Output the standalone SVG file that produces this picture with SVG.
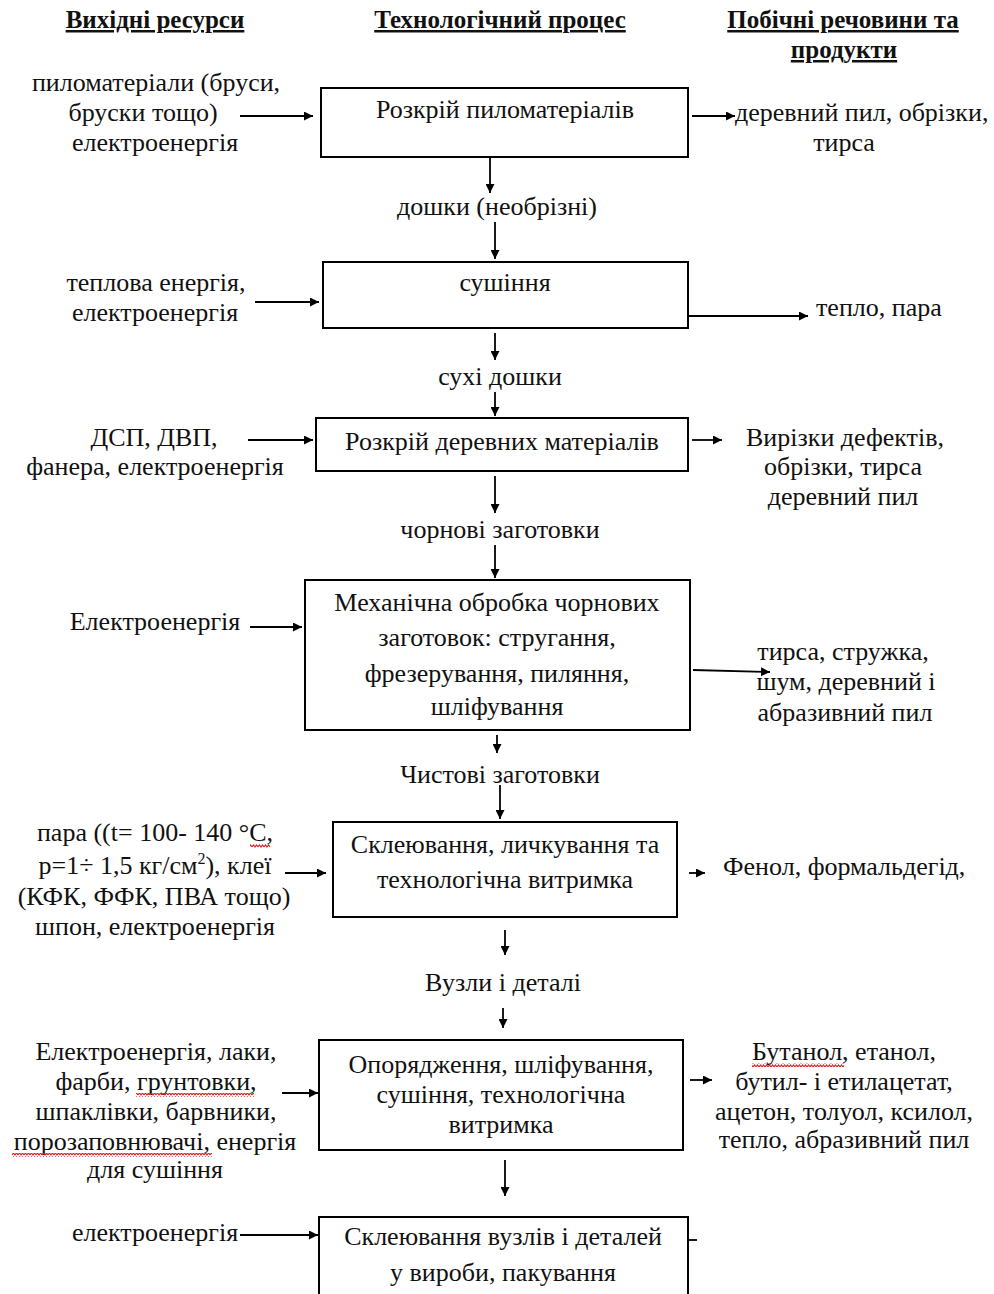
<svg xmlns="http://www.w3.org/2000/svg" width="994" height="1294" viewBox="0 0 994 1294">
<defs>
<marker id="ah" viewBox="0 0 10 10" refX="10" refY="5" markerWidth="9" markerHeight="9" markerUnits="userSpaceOnUse" orient="auto">
<path d="M0,0 L10,5 L0,10 z" fill="#000"/>
</marker>
<pattern id="wave" x="0" y="0" width="6" height="4" patternUnits="userSpaceOnUse"><path d="M0,3 L1.5,1 L3,3 L4.5,1 L6,3" fill="none" stroke="#e02020" stroke-width="1.2"/></pattern>
</defs>
<style>
text{font-family:"Liberation Serif","Times New Roman",serif;font-size:26px;fill:#111;}
.h{font-weight:bold;text-decoration:underline;font-size:25px;}
.c{text-anchor:middle;}
.box{fill:#fff;stroke:#000;stroke-width:2;}
.ln{stroke:#000;stroke-width:1.8;fill:none;}
.ar{marker-end:url(#ah);}
.sq{fill:url(#wave);}
</style>
<rect width="994" height="1294" fill="#fff"/>

<g id="headers">
<text class="h c" x="155" y="28">Вихідні ресурси</text>
<text class="h c" x="500" y="28">Технологічний процес</text>
<text class="h c" x="843" y="28">Побічні речовини та</text>
<text class="h c" x="844" y="58">продукти</text>
</g>

<g id="connectors">
<line class="ln ar" x1="240" y1="116" x2="313" y2="116"/>
<line class="ln ar" x1="692" y1="116" x2="735" y2="116"/>
<line class="ln ar" x1="490" y1="157" x2="490" y2="193"/>
<line class="ln ar" x1="495" y1="222" x2="495" y2="259"/>
<line class="ln ar" x1="255" y1="302" x2="319" y2="302"/>
<line class="ln ar" x1="685" y1="316" x2="808" y2="316"/>
<line class="ln ar" x1="495" y1="333" x2="495" y2="360"/>
<line class="ln ar" x1="495" y1="392" x2="495" y2="416"/>
<line class="ln ar" x1="248" y1="440" x2="313" y2="440"/>
<line class="ln ar" x1="692" y1="440" x2="722" y2="440"/>
<line class="ln ar" x1="495" y1="476" x2="495" y2="513"/>
<line class="ln ar" x1="495" y1="545" x2="495" y2="578"/>
<line class="ln ar" x1="250" y1="627" x2="302" y2="627"/>
<line class="ln ar" x1="693" y1="670" x2="770" y2="672"/>
<line class="ln ar" x1="497" y1="735" x2="497" y2="753"/>
<line class="ln ar" x1="500" y1="785" x2="500" y2="819"/>
<line class="ln ar" x1="285" y1="873" x2="326" y2="873"/>
<line class="ln ar" x1="689" y1="873" x2="705" y2="873"/>
<line class="ln ar" x1="505" y1="930" x2="505" y2="955"/>
<line class="ln ar" x1="503" y1="1008" x2="503" y2="1028"/>
<line class="ln ar" x1="282" y1="1093" x2="318" y2="1093"/>
<line class="ln ar" x1="690" y1="1080" x2="712" y2="1080"/>
<line class="ln ar" x1="505" y1="1160" x2="505" y2="1196"/>
<line class="ln ar" x1="240" y1="1235" x2="318" y2="1235"/>
<line class="ln" x1="689" y1="1240" x2="697" y2="1240"/>
</g>

<g id="n1">
<rect class="box" x="321" y="88" width="367" height="69"/>
<text class="c" x="505" y="118">Розкрій пиломатеріалів</text>
</g>
<g id="in1">
<text class="c" x="156" y="91">пиломатеріали (бруси,</text>
<text class="c" x="143" y="121">бруски тощо)</text>
<text class="c" x="155" y="151">електроенергія</text>
</g>
<g id="out1">
<text x="735" y="121">деревний пил, обрізки,</text>
<text class="c" x="844" y="151">тирса</text>
</g>
<g id="lbl1"><text class="c" x="497" y="215">дошки (необрізні)</text></g>

<g id="n2">
<rect class="box" x="323" y="262" width="365" height="66"/>
<text class="c" x="505" y="291">сушіння</text>
</g>
<g id="in2">
<text class="c" x="156" y="291">теплова енергія,</text>
<text class="c" x="155" y="321">електроенергія</text>
</g>
<g id="out2"><text x="816" y="316">тепло, пара</text></g>
<g id="lbl2"><text class="c" x="500" y="385">сухі дошки</text></g>

<g id="n3">
<rect class="box" x="316" y="418" width="372" height="53"/>
<text class="c" x="502" y="450">Розкрій деревних матеріалів</text>
</g>
<g id="in3">
<text class="c" x="154" y="446">ДСП, ДВП,</text>
<text class="c" x="155" y="475">фанера, електроенергія</text>
</g>
<g id="out3">
<text class="c" x="845" y="446">Вирізки дефектів,</text>
<text class="c" x="843" y="475">обрізки, тирса</text>
<text class="c" x="843" y="505">деревний пил</text>
</g>
<g id="lbl3"><text class="c" x="500" y="538">чорнові заготовки</text></g>

<g id="n4">
<rect class="box" x="305" y="580" width="385" height="150"/>
<text class="c" x="497" y="611">Механічна обробка чорнових</text>
<text class="c" x="497" y="646">заготовок: стругання,</text>
<text class="c" x="497" y="682">фрезерування, пиляння,</text>
<text class="c" x="497" y="715">шліфування</text>
</g>
<g id="in4"><text class="c" x="155" y="630">Електроенергія</text></g>
<g id="out4">
<text class="c" x="843" y="660">тирса, стружка,</text>
<text class="c" x="846" y="690">шум, деревний і</text>
<text class="c" x="845" y="721">абразивний пил</text>
</g>
<g id="lbl4"><text class="c" x="500" y="783">Чистові заготовки</text></g>

<g id="n5">
<rect class="box" x="333" y="822" width="344" height="95"/>
<text class="c" x="505" y="853">Склеювання, личкування та</text>
<text class="c" x="505" y="888">технологічна витримка</text>
</g>
<g id="in5">
<text class="c" x="155" y="841">пара ((t= 100- 140 °С,</text>
<text class="c" x="155" y="874">p=1÷ 1,5 кг/см<tspan font-size="16" dy="-10">2</tspan><tspan dy="10">), клеї</tspan></text>
<text class="c" x="154" y="905">(КФК, ФФК, ПВА тощо)</text>
<text class="c" x="155" y="935">шпон, електроенергія</text>
</g>
<g id="out5"><text x="723" y="875">Фенол, формальдегід,</text></g>
<g id="lbl5"><text class="c" x="503" y="991">Вузли і деталі</text></g>

<g id="n6">
<rect class="box" x="319" y="1040" width="364" height="110"/>
<text class="c" x="501" y="1073">Опорядження, шліфування,</text>
<text class="c" x="501" y="1103">сушіння, технологічна</text>
<text class="c" x="501" y="1133">витримка</text>
</g>
<g id="in6">
<text class="c" x="156" y="1060">Електроенергія, лаки,</text>
<text class="c" x="156" y="1090">фарби, грунтовки,</text>
<text class="c" x="156" y="1120">шпаклівки, барвники,</text>
<text class="c" x="155" y="1150">порозаповнювачі, енергія</text>
<text class="c" x="155" y="1178">для сушіння</text>
</g>
<g id="out6">
<text class="c" x="844" y="1060">Бутанол, етанол,</text>
<text class="c" x="844" y="1090">бутил- і етилацетат,</text>
<text class="c" x="844" y="1120">ацетон, толуол, ксилол,</text>
<text class="c" x="844" y="1148">тепло, абразивний пил</text>
</g>

<g id="n7">
<rect class="box" x="319" y="1217" width="369" height="90"/>
<text class="c" x="503" y="1245">Склеювання вузлів і деталей</text>
<text class="c" x="503" y="1281">у вироби, пакування</text>
</g>
<g id="in7"><text class="c" x="155" y="1241">електроенергія</text></g>

<g id="spell">
<rect class="sq" x="250" y="844" width="20" height="4"/>
<rect class="sq" x="136" y="1093" width="118" height="4"/>
<rect class="sq" x="12" y="1153" width="200" height="4"/>
<rect class="sq" x="752" y="1063" width="92" height="4"/>
</g>
</svg>
